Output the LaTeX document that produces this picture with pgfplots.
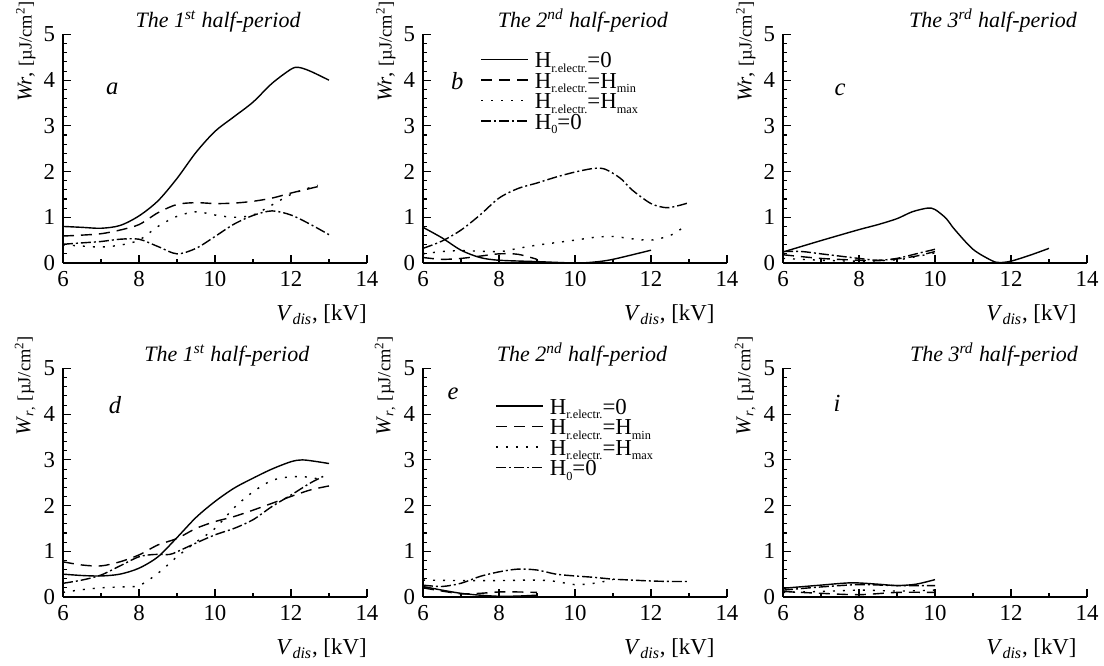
\documentclass[border=0pt]{standalone}
\usepackage{fontspec}
\setmainfont{Liberation Serif}
\usepackage{pgfplots}
\pgfplotsset{compat=1.18}
\newcommand\fs{\fontsize{13}{15}\selectfont}
\newcommand\ft{\fontsize{12.5}{15}\selectfont}
\newcommand\fl{\fontsize{14}{16}\selectfont}
% small, well lowered subscript as in the reference legend
\newcommand\sub[1]{\raisebox{-2.6pt}{\fontsize{7}{8}\selectfont #1}}
\newcommand\unit{{\fontsize{10.5}{12}\selectfont[µJ/cm\textsuperscript{2}]}}

\pgfplotsset{
  panel/.style={
    width=6.08cm, height=4.57cm, scale only axis,
    anchor=south west,
    xmin=6, xmax=14, ymin=0, ymax=5,
    axis x line=bottom, axis y line=left,
    axis line style={-, line width=0.6pt},
    xtick={6,8,...,14}, ytick={0,1,...,5},
    minor x tick num=1, minor y tick num=4,
    tick align=inside,
    major tick length=0.15cm, minor tick length=0.08cm,
    every tick/.style={black, line width=0.6pt},
    tick label style={font=\fs},
    /pgf/number format/assume math mode=true,
    ylabel style={at={(ticklabel cs:0.925)}, anchor=near ticklabel,
      inner sep=0pt, font=\fontsize{12}{14}\selectfont},
  },
  xlab/.style={xlabel={\textit{V}\textsubscript{\textit{dis}}, [kV]},
    xlabel style={at={(axis description cs:#1,0)}, anchor=base east,
      yshift=-1.15cm, inner sep=0pt, font=\fs}},
  ttl/.style={every axis title/.style={at={(axis description cs:#1,1)}, anchor=base,
      yshift=0.14cm, inner sep=0pt, font=\ft\itshape}},
  leg/.style={
    legend style={at={(axis description cs:#1)}, anchor=north west,
      draw=none, fill=none, inner sep=0pt, font=\fs,
      column sep=0.12cm, row sep=0pt,
      nodes={inner sep=0pt, text height=0.27cm, text depth=0.14cm},
      cells={anchor=west}},
    legend image code/.code={\draw[##1] (0cm,0.1cm) -- (0.94cm,0.1cm);},
  },
  s1/.style={black, line width=0.8pt, smooth, solid},
  s2/.style={black, line width=0.8pt, smooth, dash pattern=on 0.22cm off 0.14cm},
  s3/.style={black, line width=0.8pt, smooth, dash pattern=on 0.04cm off 0.16cm},
  s4/.style={black, line width=0.8pt, smooth, dash pattern=on 0.2cm off 0.06cm on 0.04cm off 0.06cm},
}

\begin{document}
\fs
\begin{tikzpicture}
\path[use as bounding box] (0,0) rectangle (22.08cm,13.32cm);

% a
\begin{axis}[panel, at={(1.26cm,8.06cm)}, xlab=1.0, ttl=0.51,
  title={The 1\textsuperscript{st} half-period},
  ylabel={\textit{Wr}, \unit}]
\addplot[s1] coordinates {(6,0.80) (6.5,0.78) (7,0.76) (7.5,0.82) (8,1.03) (8.5,1.36) (9,1.85) (9.5,2.42) (10,2.88) (10.5,3.2) (11,3.52) (11.5,3.93) (12,4.24) (12.2,4.28) (12.5,4.2) (13,4.0)};
\addplot[s2] coordinates {(6,0.59) (6.5,0.61) (7,0.64) (7.5,0.72) (8,0.84) (8.5,1.1) (9,1.28) (9.5,1.32) (10,1.3) (10.5,1.31) (11,1.35) (11.5,1.42) (12,1.53) (12.5,1.63) (12.8,1.69)};
\addplot[s3] coordinates {(6,0.4) (6.5,0.37) (7,0.35) (7.5,0.39) (8,0.5) (8.5,0.8) (9,1.02) (9.5,1.12) (10,1.05) (10.5,1.0) (11,1.05) (11.5,1.27) (12,1.5) (12.5,1.65) (12.7,1.7)};
\addplot[s4] coordinates {(6,0.41) (6.5,0.44) (7,0.47) (7.5,0.52) (8,0.52) (8.5,0.36) (9,0.2) (9.5,0.32) (10,0.58) (10.5,0.85) (11,1.04) (11.5,1.14) (12,1.05) (12.5,0.85) (13,0.62)};
\node[font=\fl\itshape] at (axis cs:7.3,3.8) {a};
\end{axis}

% b
\begin{axis}[panel, at={(8.46cm,8.06cm)}, xlab=0.96, ttl=0.526, leg={0.1875,0.915},
  title={The 2\textsuperscript{nd} half-period},
  ylabel={\textit{Wr}, \unit}]
\addplot[s1] coordinates {(6,0.78) (6.5,0.55) (7,0.28) (7.5,0.12) (8,0.06) (9,0.03) (10,0) (10.5,0.02) (11,0.08) (12,0.28)};
\addlegendentry{H\sub{r.electr.}=0}
\addplot[s2] coordinates {(6,0.12) (6.5,0.08) (7,0.1) (7.5,0.15) (8,0.2) (8.5,0.19) (9,0.08)};
\addlegendentry{H\sub{r.electr.}=H\sub{min}}
\addplot[s3] coordinates {(6,0.2) (6.5,0.25) (7,0.27) (8,0.25) (8.5,0.32) (9,0.39) (10,0.5) (10.5,0.56) (11,0.58) (11.5,0.53) (12,0.5) (12.5,0.6) (12.8,0.75)};
\addlegendentry{H\sub{r.electr.}=H\sub{max}}
\addplot[s4] coordinates {(6,0.32) (6.5,0.48) (7,0.72) (7.5,1.05) (8,1.42) (8.5,1.63) (9,1.75) (9.5,1.88) (10,1.99) (10.5,2.07) (10.8,2.05) (11.2,1.85) (11.5,1.6) (12,1.3) (12.4,1.21) (12.7,1.25) (13,1.32)};
\addlegendentry{H\sub{0}=0}
\node[font=\fl\itshape] at (axis cs:6.9,3.97) {b};
\end{axis}

% c
\begin{axis}[panel, at={(15.66cm,8.06cm)}, xlab=0.967, ttl=0.691,
  title={The 3\textsuperscript{rd} half-period},
  ylabel={\textit{Wr}, \unit}]
\addplot[s1] coordinates {(6,0.24) (7,0.49) (8,0.73) (8.5,0.84) (9,0.97) (9.4,1.12) (9.8,1.2) (10,1.17) (10.3,0.97) (10.5,0.75) (11,0.3) (11.5,0.05) (11.7,0.01) (12,0.04) (12.5,0.17) (13,0.32)};
\addplot[s2] coordinates {(6,0.18) (7,0.1) (8,0.06) (8.5,0.05) (9,0.09) (9.5,0.15) (10,0.25)};
\addplot[s3] coordinates {(6,0.1) (7,0.06) (8,0.04) (9,0.07) (9.5,0.14) (10,0.22)};
\addplot[s4] coordinates {(6,0.25) (6.5,0.25) (7,0.2) (7.5,0.15) (8,0.1) (8.5,0.06) (9,0.1) (9.5,0.2) (10,0.3)};
\node[font=\fl\itshape] at (axis cs:7.5,3.8) {c};
\end{axis}

% d
\begin{axis}[panel, at={(1.26cm,1.38cm)}, xlab=1.0, ttl=0.539,
  title={The 1\textsuperscript{st} half-period},
  ylabel={\textit{W}\textsubscript{\textit{r},} \unit}]
\addplot[s1] coordinates {(6,0.5) (6.5,0.47) (7,0.46) (7.5,0.5) (8,0.63) (8.5,0.88) (9,1.3) (9.5,1.74) (10,2.09) (10.5,2.38) (11,2.6) (11.5,2.8) (12,2.96) (12.3,3.0) (12.7,2.96) (13,2.92)};
\addplot[s2] coordinates {(6,0.77) (6.5,0.7) (7,0.68) (7.5,0.77) (8,0.92) (8.5,1.14) (9,1.28) (9.5,1.5) (10,1.65) (10.5,1.76) (11,1.9) (11.5,2.05) (12,2.2) (12.5,2.34) (13,2.43)};
\addplot[s3] coordinates {(6,0.1) (6.5,0.16) (7,0.2) (7.5,0.22) (8,0.25) (8.5,0.52) (9,0.88) (9.5,1.2) (10,1.5) (10.5,1.95) (11,2.3) (11.5,2.55) (12,2.63) (12.5,2.62) (12.8,2.56)};
\addplot[s4] coordinates {(6,0.3) (6.5,0.37) (7,0.48) (7.5,0.68) (8,0.88) (8.4,0.93) (8.8,0.93) (9,0.99) (9.5,1.18) (10,1.36) (10.5,1.5) (11,1.69) (11.5,1.98) (12,2.23) (12.5,2.49) (12.9,2.66)};
\node[font=\fl\itshape] at (axis cs:7.37,4.19) {d};
\end{axis}

% e
\begin{axis}[panel, at={(8.46cm,1.38cm)}, xlab=0.96, ttl=0.523, leg={0.237,0.86},
  title={The 2\textsuperscript{nd} half-period},
  ylabel={\textit{W}\textsubscript{\textit{r},} \unit}]
\addplot[s1] coordinates {(6,0.23) (6.5,0.15) (7,0.08) (7.5,0.04) (8,0.015) (8.5,0.02) (9,0.04)};
\addlegendentry{H\sub{r.electr.}=0}
\addplot[s2] coordinates {(6,0.2) (6.5,0.13) (7,0.07) (7.5,0.08) (8,0.11) (8.5,0.11) (9,0.1)};
\addlegendentry{H\sub{r.electr.}=H\sub{min}}
\addplot[s3] coordinates {(6,0.37) (7,0.36) (8,0.36) (9,0.37) (9.5,0.34) (10,0.27) (10.5,0.3) (11,0.38)};
\addlegendentry{H\sub{r.electr.}=H\sub{max}}
\addplot[s4] coordinates {(6,0.26) (6.5,0.23) (7,0.3) (7.5,0.45) (8,0.55) (8.5,0.61) (9,0.59) (9.5,0.5) (10,0.46) (10.5,0.43) (11,0.39) (11.5,0.37) (12,0.35) (12.5,0.34) (13,0.34)};
\addlegendentry{H\sub{0}=0}
\node[font=\fl\itshape] at (axis cs:6.79,4.45) {e};
\end{axis}

% i
\begin{axis}[panel, at={(15.66cm,1.38cm)}, xlab=0.967, ttl=0.694,
  title={The 3\textsuperscript{rd} half-period},
  ylabel={\textit{W}\textsubscript{\textit{r},} \unit}]
\addplot[s1] coordinates {(6,0.19) (7,0.26) (7.8,0.31) (8.5,0.28) (9,0.25) (9.5,0.28) (10,0.38)};
\addplot[s2] coordinates {(6,0.12) (7,0.08) (8,0.05) (9,0.1) (10,0.1)};
\addplot[s3] coordinates {(6,0.1) (7,0.12) (8,0.15) (9,0.13) (10,0.15)};
\addplot[s4] coordinates {(6,0.15) (7,0.22) (8,0.27) (9,0.25) (10,0.25)};
\node[font=\fl\itshape] at (axis cs:7.42,4.24) {i};
\end{axis}
\end{tikzpicture}
\end{document}
